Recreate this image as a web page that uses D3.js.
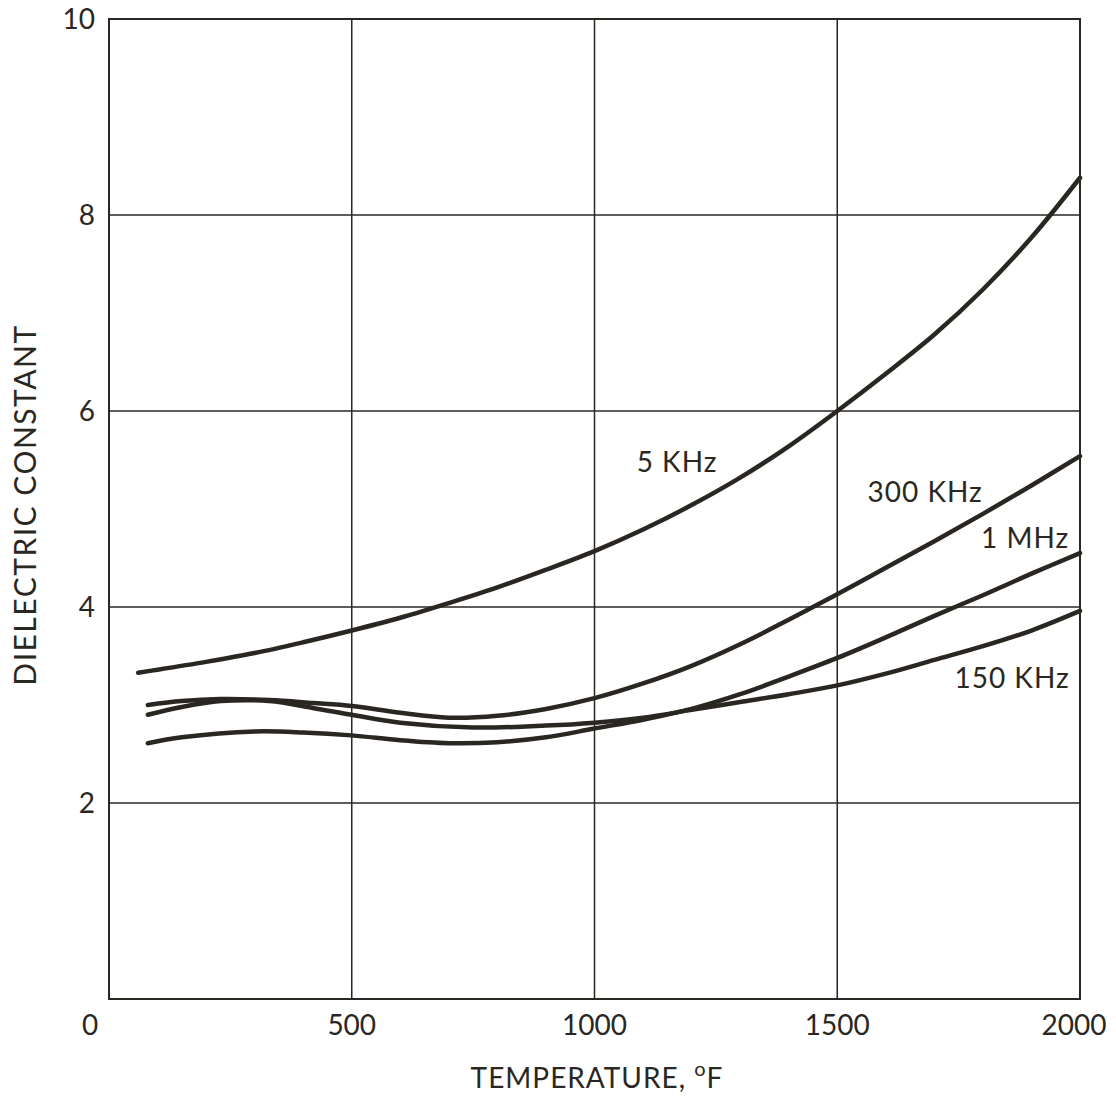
<!DOCTYPE html>
<html>
<head>
<meta charset="utf-8">
<script src="https://cdn.jsdelivr.net/npm/d3@7"></script>
<style>
  body { margin: 0; background: #fff; }
  text { font-family: Lato, "Open Sans", sans-serif; fill: #2a2722; }
</style>
</head>
<body>
<div id="viz"></div>
<script>
// temperature (deg F) and dielectric constant
khz5 = [[60,3.33],[100,3.36],[200,3.44],[300,3.53],[400,3.64],[500,3.76],[600,3.89],[700,4.04],
	[800,4.20],[900,4.38],[1000,4.57],[1100,4.79],[1200,5.04],[1300,5.32],[1400,5.64],[1500,6.00],
	[1600,6.38],[1700,6.78],[1800,7.24],[1900,7.77],[2000,8.38]];
khz300 = [[80,3.00],[150,3.04],[230,3.06],[330,3.05],[420,3.02],[500,2.99],[600,2.92],[700,2.87],
	[800,2.89],[900,2.96],[1000,3.07],[1100,3.22],[1200,3.40],[1300,3.62],[1400,3.87],[1500,4.13],
	[1600,4.40],[1700,4.67],[1800,4.95],[1900,5.24],[2000,5.54]];
mhz1 = [[80,2.61],[150,2.67],[300,2.73],[400,2.72],[500,2.69],[600,2.64],[700,2.61],[800,2.62],
	[900,2.67],[1000,2.76],[1100,2.85],[1200,2.96],[1300,3.11],[1400,3.29],[1500,3.48],[1600,3.69],
	[1700,3.91],[1800,4.12],[1900,4.34],[2000,4.55]];
khz150 = [[80,2.90],[150,2.98],[230,3.04],[330,3.04],[420,2.97],[500,2.90],[600,2.82],[750,2.77],
	[900,2.79],[1000,2.82],[1100,2.87],[1200,2.95],[1300,3.03],[1400,3.11],[1500,3.20],
	[1600,3.32],[1700,3.46],[1800,3.60],[1900,3.76],[2000,3.96]];

seriesNames = ['5 KHz', '300 KHz', '1 MHz', '150 KHz'];
series = [khz5, khz300, mhz1, khz150];
// where each curve label sits (temperature, value at baseline)
labelPos = [[1170,5.38],[1681,5.07],[1887,4.60],[1860,3.17]];

xTicks = [0, 500, 1000, 1500, 2000];
yTicks = [2, 4, 6, 8, 10];

ink = '#2a2722';
width = 1116;
height = 1113;

x = d3.scaleLinear().domain([0, 2000]).range([109, 1080]);
y = d3.scaleLinear().domain([0, 10]).range([999, 19]);

svg = d3.select('#viz').append('svg')
	.attr('width', width)
	.attr('height', height);

// grid
svg.append('g').selectAll('line')
	.data(xTicks.slice(1, -1))
	.enter().append('line')
	.attr('x1', d => x(d)).attr('x2', d => x(d))
	.attr('y1', y(0)).attr('y2', y(10))
	.attr('stroke', ink).attr('stroke-width', 1.5);

svg.append('g').selectAll('line')
	.data(yTicks.slice(0, -1))
	.enter().append('line')
	.attr('x1', x(0)).attr('x2', x(2000))
	.attr('y1', d => y(d)).attr('y2', d => y(d))
	.attr('stroke', ink).attr('stroke-width', 1.5);

// frame
svg.append('rect')
	.attr('x', x(0)).attr('y', y(10))
	.attr('width', x(2000) - x(0))
	.attr('height', y(0) - y(10))
	.attr('fill', 'none')
	.attr('stroke', ink)
	.attr('stroke-width', 2);

// tick labels
svg.append('g').selectAll('text')
	.data(xTicks)
	.enter().append('text')
	.attr('x', d => d == 0 ? x(d) - 19 : (d == 2000 ? x(d) - 6 : x(d)))
	.attr('y', 1035)
	.attr('text-anchor', 'middle')
	.attr('font-size', 28)
	.text(d => d);

svg.append('g').selectAll('text')
	.data(yTicks)
	.enter().append('text')
	.attr('x', 95)
	.attr('y', d => y(d) + 10)
	.attr('text-anchor', 'end')
	.attr('font-size', 28)
	.text(d => d);

// axis titles
xTitle = svg.append('text')
	.attr('x', 597)
	.attr('y', 1088)
	.attr('text-anchor', 'middle')
	.attr('font-size', 28)
	.attr('letter-spacing', 1);
xTitle.append('tspan').text('TEMPERATURE, ');
xTitle.append('tspan').attr('font-size', 20).attr('dy', -12).text('o');
xTitle.append('tspan').attr('dy', 12).text('F');

svg.append('text')
	.attr('transform', 'translate(36,505) rotate(-90)')
	.attr('text-anchor', 'middle')
	.attr('font-size', 30)
	.attr('letter-spacing', 1.5)
	.text('DIELECTRIC CONSTANT');

// curves
line = d3.line()
	.x(d => x(d[0]))
	.y(d => y(d[1]))
	.curve(d3.curveCatmullRom.alpha(0.5));

svg.append('g').selectAll('path')
	.data(series)
	.enter().append('path')
	.attr('d', line)
	.attr('fill', 'none')
	.attr('stroke', ink)
	.attr('stroke-width', 4.5)
	.attr('stroke-linecap', 'round');

svg.append('g').selectAll('text')
	.data(seriesNames)
	.enter().append('text')
	.attr('x', (d, i) => x(labelPos[i][0]))
	.attr('y', (d, i) => y(labelPos[i][1]))
	.attr('text-anchor', 'middle')
	.attr('font-size', 28)
	.attr('letter-spacing', 1)
	.text(d => d);
</script>
</body>
</html>
